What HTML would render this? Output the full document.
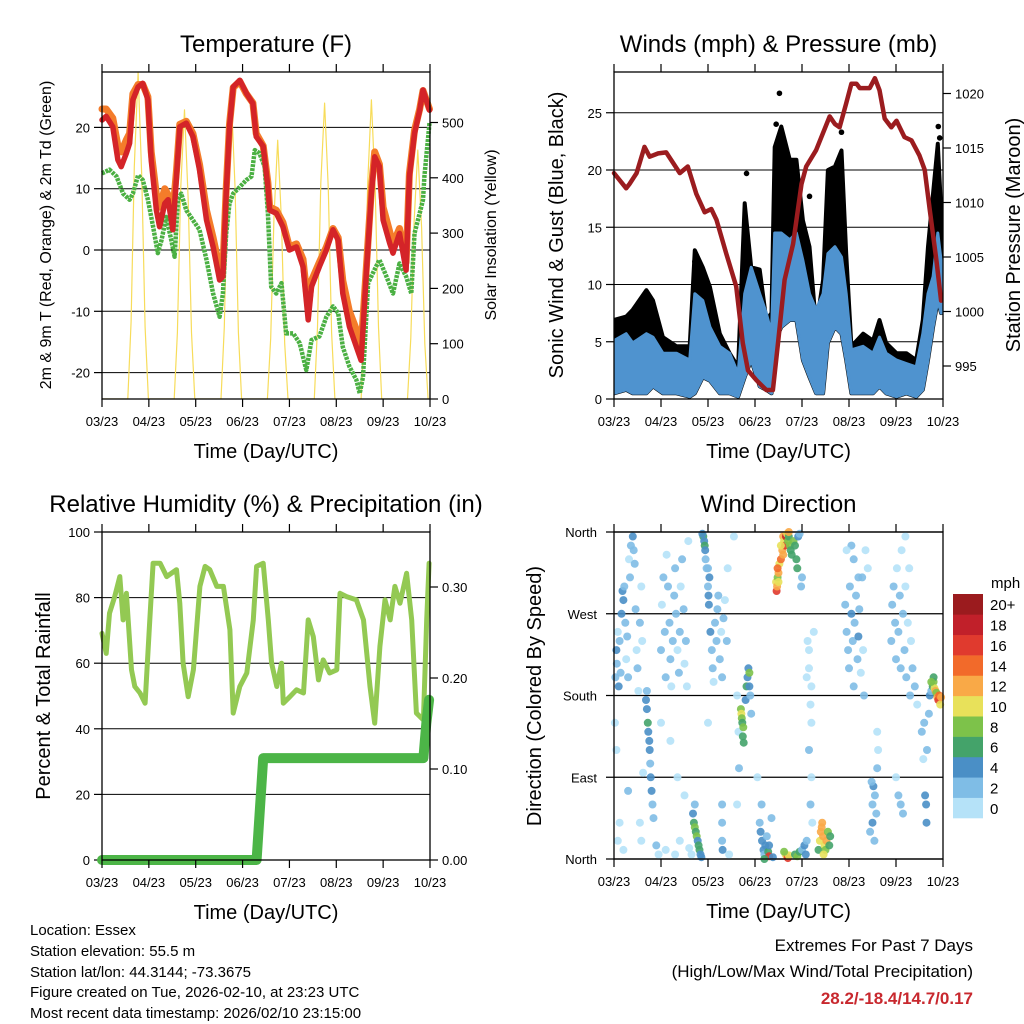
<!DOCTYPE html>
<html><head><meta charset="utf-8"><title>Station Meteogram</title>
<style>
html,body{margin:0;padding:0;background:#fff;}
svg{display:block;font-family:"Liberation Sans",Arial,sans-serif;}
</style></head>
<body>
<svg id="root" width="1024" height="1024" viewBox="0 0 1024 1024" xmlns="http://www.w3.org/2000/svg">
<rect width="1024" height="1024" fill="#fff"/>
<g id="g1"></g>
<g id="g2"></g>
<g id="g3"></g>
<g id="g4"></g>
<g font-size="15" fill="#000">
<text x="30" y="935">Location: Essex</text>
<text x="30" y="956">Station elevation: 55.5 m</text>
<text x="30" y="977">Station lat/lon: 44.3144; -73.3675</text>
<text x="30" y="997">Figure created on Tue, 2026-02-10, at 23:23 UTC</text>
<text x="30" y="1018">Most recent data timestamp: 2026/02/10 23:15:00</text>
</g>
<g text-anchor="end">
<text x="973" y="951" font-size="17">Extremes For Past 7 Days</text>
<text x="973" y="977" font-size="17">(High/Low/Max Wind/Total Precipitation)</text>
<text x="973" y="1004" font-size="17" font-weight="bold" fill="#c8282e">28.2/-18.4/14.7/0.17</text>
</g>
</svg>
<script>
// ---------- Temperature data ----------
var tempDays=[0,.09,.23,.34,.41,.52,.59,.66,.77,.87,.98,1.05,1.16,1.23,1.34,1.41,1.51,1.59,1.66,1.80,1.94,2.08,2.23,2.37,2.51,2.58,2.65,2.72,2.80,2.94,3.08,3.22,3.29,3.44,3.54,3.58,3.72,3.86,4.0,4.15,4.29,4.40,4.47,4.64,4.79,4.93,5.04,5.14,5.28,5.43,5.53,5.64,5.75,5.82,5.92,6.0,6.14,6.21,6.35,6.49,6.56,6.67,6.78,6.85,6.99];
var temp2m=[21.2,21.8,20.1,14.7,13.6,15.8,17.4,24.5,26.6,27.2,24.5,14.7,6.5,3.8,7.6,8.2,3.3,12.0,20.1,20.7,18.5,13.1,4.9,0.5,-4.9,-4.3,9.2,20.1,26.6,27.7,25.6,23.9,18.5,16.9,10.3,6.5,6.0,3.8,0,0.5,-2.7,-11.4,-6.0,-2.7,0,3.3,1.6,-7.1,-12.5,-15.8,-18.0,-3.8,9.2,15.2,13.6,4.9,1.1,-0.5,2.7,-3.3,12.0,19.0,22.8,26.1,22.8];
var temp9m=[23,23,21.5,17,16,18,19,25.5,27,27,25,16,9,7,10,9,6,13,20.5,21,19,14,6.5,2,-3,-3,10,20.5,26.5,27.5,25.5,24,19,17,11,7,6.5,4.5,0.5,1,-1.5,-9.5,-5,-2,0.5,3.5,2,-5,-10,-13,-16,-3,10,16,14,7,3,1,3.5,-2,12.5,19.5,23,26,23];
var dewDays=[0,.16,.31,.45,.59,.66,.77,.87,.98,1.09,1.19,1.27,1.37,1.48,1.55,1.62,1.69,1.80,1.94,2.08,2.23,2.37,2.51,2.58,2.65,2.72,2.80,2.94,3.08,3.19,3.26,3.36,3.47,3.54,3.61,3.72,3.83,3.93,4.08,4.22,4.36,4.47,4.64,4.79,4.93,5.04,5.14,5.28,5.43,5.50,5.57,5.68,5.78,5.92,6.07,6.21,6.35,6.49,6.60,6.67,6.78,6.85,6.88,6.99];
var dewVals=[12.5,13.1,12.0,9.2,8.2,9.2,12.2,11.4,8.2,3.8,-0.5,1.6,5.4,1.6,-1.1,8.2,9.2,6.5,4.9,3.3,-1.6,-7.1,-10.9,-7.1,2.7,7.6,9.2,10.3,11.4,12.0,16.3,15.8,13.6,6.0,-6.0,-7.1,-5.4,-13.6,-13.6,-15.2,-19.6,-14.7,-14.1,-10.9,-9.2,-10.3,-15.8,-19.0,-21.2,-23.4,-20.7,-5.4,-3.8,-1.6,-4.3,-7.1,-2.2,-4.3,-7.1,2.7,6.0,8.2,12.0,20.7];
var solarDays=[0,.55,.62,.69,.77,.85,.92,.99,1.54,1.61,1.68,1.76,1.84,1.91,1.98,2.54,2.61,2.68,2.76,2.84,2.91,2.98,3.53,3.60,3.67,3.75,3.83,3.90,3.97,4.53,4.60,4.67,4.75,4.83,4.90,4.97,5.53,5.60,5.67,5.75,5.83,5.90,5.97,6.52,6.59,6.66,6.74,6.82,6.89,6.96,7];
var solarVals=[0,0,140,420,590,400,130,0,0,120,380,523,360,120,0,0,130,390,547,380,120,0,0,110,330,468,320,100,0,0,130,390,535,380,120,0,0,130,390,541,380,130,0,0,110,320,450,310,100,0,0];
var tempTicks=[-20,-10,0,10,20];
var solarTicks=[0,100,200,300,400,500];
var dateLabels=["03/23","04/23","05/23","06/23","07/23","08/23","09/23","10/23"];
// ---------- Wind data ----------
var windDays=[0,.26,.40,.69,.83,1.04,1.33,1.61,1.72,1.89,2.04,2.25,2.46,2.64,2.78,2.92,3.10,3.24,3.35,3.42,3.56,3.74,3.88,4.02,4.16,4.30,4.45,4.55,4.70,4.84,4.94,5.05,5.30,5.51,5.65,5.79,6.01,6.22,6.43,6.57,6.68,6.79,6.89,6.96];
var windHigh=[5.1,5.7,4.9,5.7,5.4,4.0,4.0,3.4,9.2,8.6,6.3,4.6,4.0,2.2,9.2,11.5,9.2,7.5,5.7,14.5,14.5,13.9,14.5,12.1,9.2,7.8,9.2,12.7,13.3,12.4,9.2,4.3,4.6,4.0,5.4,4.0,3.4,3.1,2.8,5.7,9.2,10.7,14.5,12.1];
var windLow=[0.5,0.8,0.5,0.5,1.1,0.5,0.5,0.2,0.5,1.9,1.6,0.5,0.5,0.2,1.9,3.4,1.1,0.8,0.5,4.9,6.3,6.9,6.9,3.4,1.9,0.5,0.5,4.9,6.3,5.7,3.4,0.5,0.5,0.5,1.1,0.5,0.2,0.5,0.2,0.8,3.4,6.3,8.6,7.5];
var gustHigh=[6.9,7.2,7.8,9.5,8.6,5.4,4.6,4.6,13.0,11.5,9.8,5.7,4.0,2.8,17.1,11.5,11.3,6.9,7.5,22.0,23.8,20.9,20.9,15.6,13.3,6.3,10.4,20.0,20.3,21.7,12.7,4.6,5.7,5.1,6.9,4.9,4.0,4.0,3.4,6.9,13.3,18.0,22.3,16.5];
var gustOutDays=[1.72,2.82,3.52,3.45,4.16,4.84,6.90,6.93];
var gustOutVals=[12.0,19.7,26.7,24.0,17.7,23.3,23.8,22.8];
var presDays=[0,.26,.33,.48,.65,.76,.94,1.11,1.40,1.57,1.75,1.93,2.07,2.18,2.39,2.60,2.74,2.85,3.03,3.24,3.38,3.49,3.63,3.81,3.99,4.09,4.30,4.59,4.70,4.80,4.94,5.05,5.16,5.23,5.44,5.55,5.65,5.76,5.90,6.01,6.18,6.33,6.50,6.61,6.72,6.86,6.96];
var presVals=[1012.7,1011.3,1011.7,1012.7,1015.1,1014.2,1014.5,1014.6,1012.7,1013.3,1010.8,1009.1,1009.4,1008.4,1005.3,1002.3,997.1,994.6,993.7,992.8,992.8,997.1,1002.9,1006.2,1011.7,1013.3,1014.8,1017.9,1017.2,1016.9,1019.1,1020.9,1020.9,1020.5,1020.5,1021.4,1020.3,1017.7,1016.9,1017.5,1016.0,1015.7,1014.3,1013.0,1009.3,1004.7,1001.0];
var windTicks=[0,5,10,15,20,25];
var presTicks=[995,1000,1005,1010,1015,1020];
// ---------- RH / Rain data ----------
var rhDays=[0,.09,.16,.27,.38,.45,.52,.63,.70,.81,.92,1.02,1.09,1.24,1.38,1.59,1.66,1.73,1.84,1.95,2.09,2.20,2.30,2.45,2.59,2.73,2.80,2.94,3.09,3.23,3.30,3.44,3.55,3.62,3.73,3.83,3.87,4.01,4.15,4.30,4.40,4.51,4.62,4.72,4.86,5.01,5.08,5.22,5.43,5.58,5.72,5.82,5.93,6.04,6.15,6.25,6.36,6.50,6.61,6.71,6.86,6.93,6.98];
var rhVals=[69.1,63.0,75.2,80.3,86.4,73.2,81.3,58.0,52.9,50.9,47.8,73.2,90.5,90.5,86.4,88.5,78.3,60.0,49.8,58.0,83.4,89.5,88.5,83.4,83.4,70.2,44.8,52.9,57.0,73.2,89.5,90.5,73.2,60.0,52.9,60.0,47.8,49.8,51.9,50.9,73.2,68.1,54.9,61.0,57.0,58.0,81.3,80.3,79.3,73.2,52.9,41.7,65.1,79.3,73.2,83.4,78.3,87.4,73.2,44.8,42.7,73.2,90.5];
var rainDays=[0,3.30,3.44,6.86,6.92,6.98];
var rainVals=[0,0,0.112,0.112,0.15,0.176];
var rhTicks=[0,20,40,60,80,100];
var rainTicks=[0,0.1,0.2,0.3];
// ---------- Wind direction data ----------
var dirDays=[0.03,0.05,0.06,0.08,0.1,0.12,0.14,0.16,0.18,0.2,0.22,0.24,0.26,0.28,0.3,0.32,0.34,0.36,0.4,0.42,0.44,0.46,0.48,0.5,0.52,0.55,0.58,0.6,0.02,0.05,0.08,0.12,0.2,0.3,
0.68,0.7,0.72,0.73,0.75,0.76,0.77,0.78,0.8,0.82,0.84,0.7,0.62,0.58,0.55,0.9,0.95,
1.0,1.02,1.05,1.08,1.1,1.12,1.15,1.18,1.2,1.22,1.25,1.28,1.3,1.32,1.35,1.38,1.4,1.42,1.45,1.48,1.5,1.53,1.55,1.58,1.0,1.2,1.3,1.4,1.5,1.1,1.35,
1.68,1.7,1.72,1.74,1.76,1.78,1.8,1.82,1.84,1.86,1.72,1.65,1.6,1.9,1.92,1.93,1.94,1.88,1.95,1.97,
2.0,2.02,2.05,2.08,2.1,2.12,2.15,2.18,2.2,2.22,2.25,2.28,2.3,2.33,2.36,2.4,2.42,2.0,2.03,2.01,2.3,2.3,2.3,2.31,2.45,2.0,
2.62,2.65,2.66,2.7,2.71,2.72,2.73,2.75,2.74,2.76,2.8,2.82,2.84,2.86,2.88,2.9,2.92,2.88,2.62,2.55,
3.1,3.12,3.15,3.18,3.2,3.22,3.25,3.28,3.3,3.3,3.14,3.05,3.35,3.38,3.2,
3.45,3.46,3.47,3.48,3.5,3.52,3.55,3.58,3.6,3.62,3.64,3.66,3.68,3.7,3.72,3.74,3.76,3.78,3.55,3.6,3.48,3.5,3.72,
3.65,3.68,3.7,3.72,3.62,
3.82,3.85,3.88,3.9,3.92,3.95,3.98,4.0,3.85,3.9,3.95,4.0,4.05,4.08,4.1,
4.1,4.12,4.15,4.18,4.2,4.15,4.2,4.18,4.22,4.15,4.2,4.25,
4.35,4.38,4.4,4.42,4.45,4.48,4.5,4.52,4.55,4.58,4.43,4.46,4.6,
4.92,4.95,4.98,5.0,5.02,5.05,5.08,5.1,5.12,5.15,5.18,5.2,5.22,5.25,5.28,5.3,5.32,5.35,5.4,5.1,5.05,4.95,5.2,5.45,5.5,5.52,5.55,5.58,5.6,5.62,5.5,5.54,5.48,5.6,
5.9,5.92,5.95,5.98,6.0,6.02,6.05,6.08,6.1,6.12,6.15,6.18,6.2,6.22,6.25,6.28,6.3,6.32,6.35,6.4,6.45,6.0,6.05,6.1,6.15,6.2,
6.55,6.58,6.6,6.62,6.64,6.65,6.66,6.7,6.72,6.75,6.78,6.8,6.82,6.84,6.86,6.88,6.9,6.92,6.94,6.96,6.8,6.75];
var dirDeg=[200,230,215,250,190,240,205,270,295,285,300,260,220,245,200,330,310,345,355,340,325,275,230,210,185,260,300,240,150,120,20,40,10,75,
175,165,150,140,130,120,105,90,75,60,45,185,95,20,40,15,5,
230,280,310,250,200,335,300,260,220,190,240,290,320,270,230,205,250,300,330,275,215,240,190,350,150,130,5,20,70,10,90,
50,40,35,30,25,20,15,10,5,2,60,5,12,355,350,345,340,358,330,320,
300,280,250,230,210,195,260,240,275,290,220,250,200,265,285,240,320,320,310,290,40,20,60,10,5,150,
180,140,100,165,160,155,150,145,135,128,175,190,200,210,190,180,160,205,60,355,
40,30,20,10,5,15,25,8,3,15,60,90,45,2,0,
305,295,300,310,315,325,330,340,355,350,345,355,358,350,355,345,340,335,345,335,320,305,360,
5,3,1,4,8,
350,345,330,320,355,358,300,310,5,3,8,10,15,5,20,
200,240,210,170,150,120,90,60,40,230,190,250,
10,20,30,35,25,15,10,20,30,15,40,5,25,
280,250,230,210,300,270,240,190,260,290,220,245,275,205,310,230,180,340,320,330,345,340,310,30,60,80,70,50,100,120,40,20,85,140,
240,280,300,260,220,320,250,290,210,340,270,230,300,200,260,320,180,240,210,190,170,90,70,60,50,355,
140,110,150,70,60,40,120,160,180,185,190,195,188,185,183,178,175,180,170,178,200,195];
var dirSpd=[2,4,3,1,4,2,3,4,4,4,3,2,1,2,3,1,2,3,4,3,2,2,1,2,1,2,1,1,1,0,1,0,1,2,
4,5,6,4,5,4,3,4,4,3,2,2,1,0,0,2,1,
2,1,2,3,2,1,2,2,3,1,2,2,3,2,1,2,3,1,2,2,1,2,1,1,1,1,1,1,1,0,0,
4,6,8,6,8,4,6,6,4,4,3,1,0,6,4,6,4,4,3,2,
3,4,4,2,2,1,2,3,3,2,2,1,2,2,1,2,1,3,4,4,2,2,2,4,1,0,
0,1,2,8,10,8,6,8,6,6,4,6,4,4,4,3,2,8,1,1,
3,4,4,4,3,4,2,6,16,4,2,1,2,4,6,
10,16,12,8,12,10,14,12,12,10,16,18,10,8,6,8,6,6,10,12,14,10,12,
10,12,16,10,8,
8,6,6,6,4,2,2,2,6,8,6,2,4,4,2,
1,1,0,1,1,2,1,2,1,0,0,1,
6,10,12,12,12,10,8,12,8,6,12,10,6,
2,3,2,3,2,4,3,2,2,3,2,4,2,1,2,1,2,1,1,3,2,1,2,2,3,4,3,2,2,1,4,3,2,1,
2,2,2,3,2,1,2,3,2,1,2,2,1,2,1,1,2,1,2,2,1,1,3,2,2,0,
2,1,2,4,4,4,2,3,4,2,6,8,10,12,8,12,16,14,10,12,6,8];
var dirTicks=[0,90,180,270,360];
var dirLabels=["North","East","South","West","North"];
var cbLabels=["0","2","4","6","8","10","12","14","16","18","20+"];
var cbColors=["#b5e2f8","#7fbde6","#4a8fc6","#44a36a","#7dc24a","#e8e15a","#f9a947","#f26a2a","#e03a2e","#c1202a","#9b1b1e"];

var NS="http://www.w3.org/2000/svg";
function mk(parent,tag,attrs,txt){var e=document.createElementNS(NS,tag);for(var k in attrs)e.setAttribute(k,attrs[k]);if(txt!==undefined)e.textContent=txt;parent.appendChild(e);return e;}
function lin(d0,d1,r0,r1){return function(v){return r0+(v-d0)*(r1-r0)/(d1-d0);};}
function pathFrom(xs,ys,fx,fy){var s="";for(var i=0;i<xs.length;i++){s+=(i?"L":"M")+fx(xs[i]).toFixed(1)+","+fy(ys[i]).toFixed(1);}return s;}

function frame(g,L,T,R,B,title,xlabel){
  var f=mk(g,"rect",{x:L,y:T,width:R-L,height:B-T,fill:"none",stroke:"#000","stroke-width":1.3});
  
  
  var t=mk(g,"text",{x:(L+R)/2,y:T-20,"text-anchor":"middle","font-size":24},title);
  
  
  var xl=mk(g,"text",{x:(L+R)/2,y:B+59,"text-anchor":"middle","font-size":20},xlabel);
  
  
  var fx=lin(0,7,L,R);
  for(var i=0;i<dateLabels.length;i++){
    var x=fx(i);
    var tk=mk(g,"path",{d:"M"+x+","+B+"v8M"+x+","+T+"v-8",stroke:"#000","stroke-width":1.2});
    
    
    var tl=mk(g,"text",{x:x,y:B+27,"text-anchor":"middle","font-size":13},dateLabels[i]);
    
    
  }
  return fx;
}
function leftAxis(g,L,R,ticks,fy,fmt,grid){
  for(var i=0;i<ticks.length;i++){var y=fy(ticks[i]);
    if(grid){var gl=mk(g,"line",{x1:L,x2:R,y1:y,y2:y,stroke:"#000","stroke-width":1});
      
      }
    var tk=mk(g,"line",{x1:L-8,x2:L,y1:y,y2:y,stroke:"#000","stroke-width":1.2});
    
    
    var tl=mk(g,"text",{x:L-12,y:y+5,"text-anchor":"end","font-size":13},fmt(ticks[i]));
    
    
  }
}
function rightAxis(g,R,ticks,fy,fmt){
  for(var i=0;i<ticks.length;i++){var y=fy(ticks[i]);
    var tk=mk(g,"line",{x1:R,x2:R+8,y1:y,y2:y,stroke:"#000","stroke-width":1.2});
    
    
    var tl=mk(g,"text",{x:R+12,y:y+5,"text-anchor":"start","font-size":13},fmt(ticks[i]));
    
    
  }
}
function vlabel(g,x,y,size,txt,name){
  var t=mk(g,"text",{x:0,y:0,transform:"translate("+x+","+y+") rotate(-90)","text-anchor":"middle","font-size":size},txt);
  
  
}

// ===== Panel 1: Temperature =====
(function(){
  var g=document.getElementById("g1");var L=102,T=72,R=430,B=399;
  var fy=function(v){return 250-v*6.13;};
  var fs=function(v){return 399-v*0.553;};
  var fx=lin(0,7,L,R);
  leftAxis(g,L,R,tempTicks,fy,function(v){return String(v);},true);
  rightAxis(g,R,solarTicks,fs,function(v){return String(v);});
  var clip=mk(g,"clipPath",{id:"c1"});mk(clip,"rect",{x:L,y:T,width:R-L,height:B-T});
  var s=mk(g,"path",{d:pathFrom(solarDays,solarVals,fx,fs),fill:"none",stroke:"#f7dc5a","stroke-width":1.2,"clip-path":"url(#c1)","stroke-linejoin":"round"});
  
  
  var o=mk(g,"path",{d:pathFrom(tempDays,temp9m,fx,fy),fill:"none",stroke:"#f47c2a","stroke-width":7,"stroke-linejoin":"round","stroke-linecap":"round"});
  
  
  var d=mk(g,"path",{d:pathFrom(dewDays,dewVals,fx,fy),fill:"none",stroke:"#4bb043","stroke-width":4.5,"stroke-dasharray":"3 1","stroke-linejoin":"round"});
  
  
  var r=mk(g,"path",{d:pathFrom(tempDays,temp2m,fx,fy),fill:"none",stroke:"#d42428","stroke-width":5.5,"stroke-linejoin":"round","stroke-linecap":"round"});
  
  
  frame(g,L,T,R,B,"Temperature (F)","Time (Day/UTC)");
  vlabel(g,51,235,16,"2m & 9m T (Red, Orange) & 2m Td (Green)","y-axis-title");
  vlabel(g,496,235,16,"Solar Insolation (Yellow)","right-y-axis-title");
})();

// ===== Panel 2: Winds & Pressure =====
(function(){
  var g=document.getElementById("g2");var L=614,T=72,R=943,B=399;
  var fy=function(v){return 399-v*11.45;};
  var fp=function(v){return 366-(v-995)*10.9;};
  var fx=lin(0,7,L,R);
  leftAxis(g,L,R,windTicks,fy,function(v){return String(v);},true);
  rightAxis(g,R,presTicks,fp,function(v){return String(v);});
  var clip=mk(g,"clipPath",{id:"c2"});mk(clip,"rect",{x:L,y:T,width:R-L,height:B-T+2});
  var gd="";for(var i=0;i<windDays.length;i++)gd+=(i?"L":"M")+fx(windDays[i]).toFixed(1)+","+fy(gustHigh[i]).toFixed(1);
  for(var j=windDays.length-1;j>=0;j--)gd+="L"+fx(windDays[j]).toFixed(1)+","+fy(windLow[j]).toFixed(1);
  var gb=mk(g,"path",{d:gd+"Z",fill:"#000",stroke:"#000","stroke-width":4,"stroke-linejoin":"round","clip-path":"url(#c2)"});
  
  
  for(var k=0;k<gustOutDays.length;k++){
    var c=mk(g,"circle",{cx:fx(gustOutDays[k]),cy:fy(gustOutVals[k]),r:2.8,fill:"#000"});
    
    
  }
  var bd="";for(var i2=0;i2<windDays.length;i2++)bd+=(i2?"L":"M")+fx(windDays[i2]).toFixed(1)+","+fy(windHigh[i2]).toFixed(1);
  for(var j2=windDays.length-1;j2>=0;j2--)bd+="L"+fx(windDays[j2]).toFixed(1)+","+fy(windLow[j2]).toFixed(1);
  var wb=mk(g,"path",{d:bd+"Z",fill:"#4f93cf",stroke:"#4f93cf","stroke-width":3,"stroke-linejoin":"round","clip-path":"url(#c2)"});
  
  
  var p=mk(g,"path",{d:pathFrom(presDays,presVals,fx,fp),fill:"none",stroke:"#9b1c1f","stroke-width":4.5,"stroke-linejoin":"round","stroke-linecap":"round"});
  
  
  frame(g,L,T,R,B,"Winds (mph) & Pressure (mb)","Time (Day/UTC)");
  vlabel(g,563,235,20,"Sonic Wind & Gust (Blue, Black)","y-axis-title");
  vlabel(g,1020,235,20,"Station Pressure (Maroon)","right-y-axis-title");
})();

// ===== Panel 3: RH & Rain =====
(function(){
  var g=document.getElementById("g3");var L=102,T=532,R=430,B=860;
  var fy=function(v){return 860-v*3.28;};
  var fr=function(v){return 860-v*910;};
  var fx=lin(0,7,L,R);
  leftAxis(g,L,R,rhTicks,fy,function(v){return String(v);},true);
  rightAxis(g,R,rainTicks,fr,function(v){return v.toFixed(2);});
  var h=mk(g,"path",{d:pathFrom(rhDays,rhVals,fx,fy),fill:"none",stroke:"#93c953","stroke-width":5,"stroke-linejoin":"round","stroke-linecap":"round"});
  
  
  var rn=mk(g,"path",{d:pathFrom(rainDays,rainVals,fx,fr),fill:"none",stroke:"#4cb547","stroke-width":10,"stroke-linejoin":"round","stroke-linecap":"round"});
  
  
  frame(g,L,T,R,B,"Relative Humidity (%) & Precipitation (in)","Time (Day/UTC)");
  vlabel(g,50,696,20,"Percent & Total Rainfall","y-axis-title");
})();

// ===== Panel 4: Wind direction =====
(function(){
  var g=document.getElementById("g4");var L=614,T=532,R=943,B=859;
  var fy=function(v){return B-v*(B-T)/360;};
  var fx=lin(0,7,L,R);
  for(var i=0;i<dirTicks.length;i++){var y=fy(dirTicks[i]);
    var gl=mk(g,"line",{x1:L-8,x2:R,y1:y,y2:y,stroke:"#000","stroke-width":1.2});
    
    
    var tl=mk(g,"text",{x:L-17,y:y+5,"text-anchor":"end","font-size":13},dirLabels[i]);
    
    
  }
  for(var k=0;k<dirDays.length;k++){
    var bin=Math.min(10,Math.floor(dirSpd[k]/2));
    var c=mk(g,"circle",{cx:fx(dirDays[k]).toFixed(1),cy:fy(dirDeg[k]).toFixed(1),r:4,fill:cbColors[bin],"fill-opacity":0.9});
    
    
  }
  frame(g,L,T,R,B,"Wind Direction","Time (Day/UTC)");
  vlabel(g,541,696,20,"Direction (Colored By Speed)","y-axis-title");
  var cb=mk(g,"g",{});
  
  
  var u=mk(cb,"text",{x:991,y:588,"font-size":15},"mph");
  
  
  var h=(818-594)/cbColors.length;
  for(var n=0;n<cbColors.length;n++){
    var y0=818-(n+1)*h;
    var bx=mk(cb,"rect",{x:953,y:y0,width:30,height:h+0.3,fill:cbColors[n]});
    
    
    var lt=mk(cb,"text",{x:990,y:y0+h/2+6,"font-size":15},cbLabels[n]);
    
    
  }
})();
</script>
</body></html>
